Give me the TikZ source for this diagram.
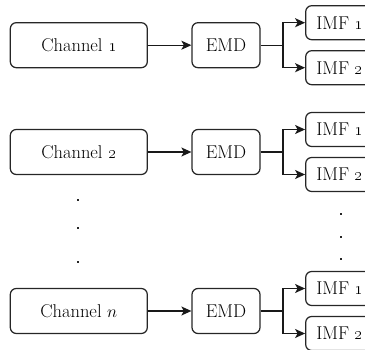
\documentclass[tikz,border=0pt]{standalone}
\usetikzlibrary{arrows.meta}
\begin{document}
\begin{tikzpicture}[x=1pt,y=-1pt,
  box/.style={draw=black!85, line width=1.25pt, rounded corners=6pt,
    minimum height=45pt, inner sep=0pt, font=\fontsize{18.5}{21}\selectfont},
  chanbox/.style={box, minimum width=137pt},
  emdbox/.style={box, minimum width=68pt},
  imfbox/.style={box, minimum width=68pt, minimum height=34pt},
  link/.style={line width=1.3pt, draw=black!90},
  arr/.style={link, -{Stealth[length=10pt,width=9pt,inset=2.5pt]}},
  dotmark/.style={fill=black!85, minimum size=2.4pt, inner sep=0pt}]
  \clip (0,0) rectangle (365,350);

  % one processing row: channel -> EMD -> two IMFs
  \foreach \r/\y/\lab in {1/45.2/{\oldstylenums{1}}, 2/152/{\oldstylenums{2}}, 3/311/{$n$}} {
    \node[chanbox] (ch\r) at (78.8,\y) {Channel \lab};
    \node[emdbox] (emd\r) at (226,\y) {EMD};
    \node[imfbox] (imfa\r) at (339.7,\y-22.5) {IMF \oldstylenums{1}};
    \node[imfbox] (imfb\r) at (339.7,\y+22.5) {IMF \oldstylenums{2}};
    \draw[arr] (ch\r) -- (emd\r);
    \draw[link] (emd\r.east) -- ++(22.5,0) coordinate (j\r);
    \draw[arr] (j\r) |- (imfa\r.west);
    \draw[arr] (j\r) |- (imfb\r.west);
  }

  % vertical ellipses
  \node[dotmark] (dl1) at (78,200) {};
  \node[dotmark] (dl2) at (78,228) {};
  \node[dotmark] (dl3) at (78,262) {};
  \node[dotmark] (dr1) at (341,214) {};
  \node[dotmark] (dr2) at (341,237) {};
  \node[dotmark] (dr3) at (341,259) {};
\end{tikzpicture}
\end{document}
